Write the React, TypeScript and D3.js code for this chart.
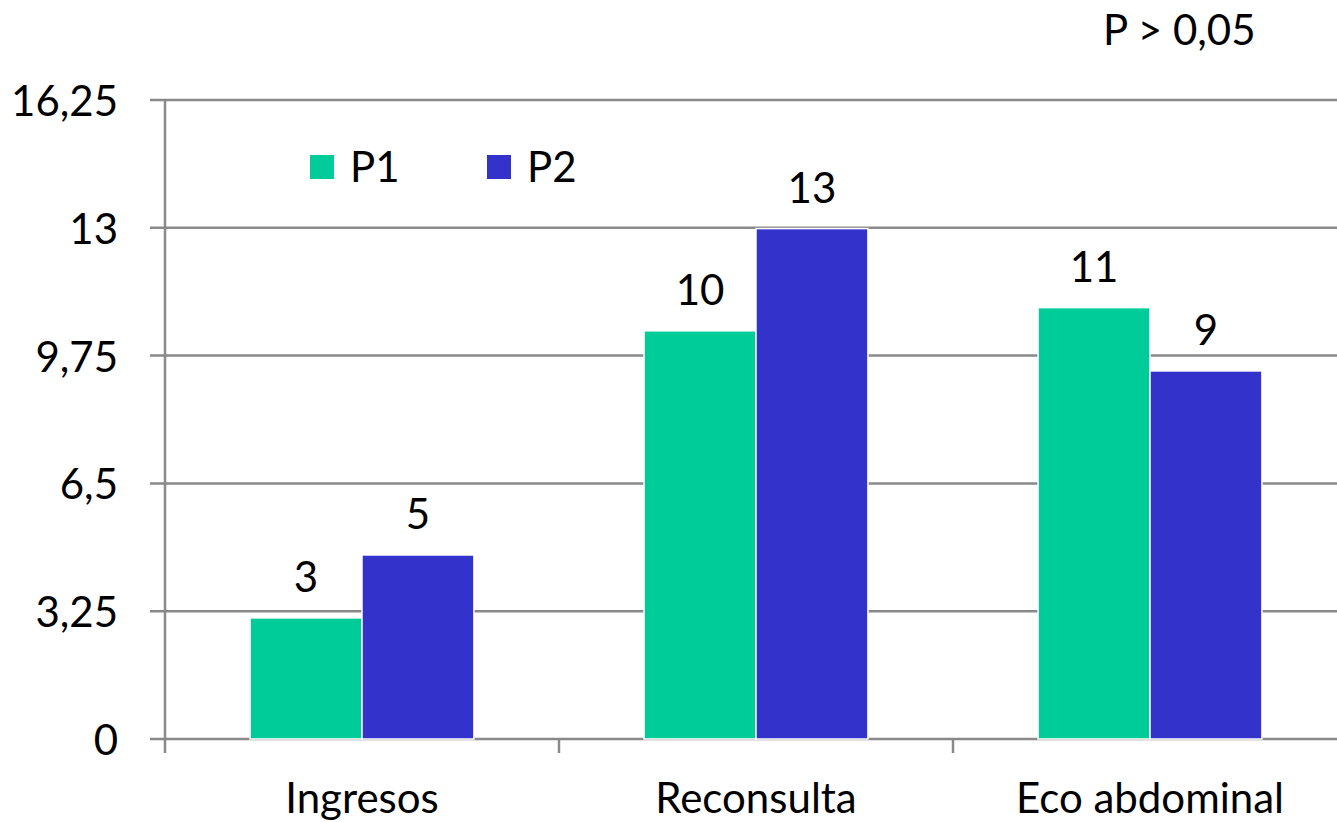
import React from "react";
import * as d3 from "d3";

// values (bar heights) and the printed labels
const categories = ["Ingresos", "Reconsulta", "Eco abdominal"];
const seriesNames = ["P1", "P2"];
const p1Values = [3.08, 10.38, 10.97];
const p2Values = [4.68, 12.98, 9.36];
const p1Labels = ["3", "10", "11"];
const p2Labels = ["5", "13", "9"];
const yTicks = [0, 3.25, 6.5, 9.75, 13, 16.25];
const yTickLabels = ["0", "3,25", "6,5", "9,75", "13", "16,25"];
const note = "P > 0,05";

const W = 1337;
const H = 822;
const colors = ["#00CC99", "#3333CC"];
const gridColor = "#898989";
const font = "Lato, 'Open Sans', sans-serif";
const fs = 42;

const App: React.FC = () => {
  const x0 = 165;
  const bandW = 394;
  const x = d3
    .scaleBand<string>()
    .domain(categories)
    .range([x0, x0 + bandW * categories.length])
    .padding(0);

  const y = d3.scaleLinear().domain([0, 16.25]).range([739, 100]);

  // Excel-style gap width ~152%
  const barW = x.bandwidth() / (2 + 1.52);
  const xs = d3
    .scaleBand<string>()
    .domain(seriesNames)
    .range([0, barW * 2])
    .padding(0);

  const series = [
    { name: "P1", values: p1Values, labels: p1Labels, color: colors[0] },
    { name: "P2", values: p2Values, labels: p2Labels, color: colors[1] },
  ];

  const groupOffset = (x.bandwidth() - barW * 2) / 2;

  return (
    <svg
      width={W}
      height={H}
      style={{ position: "absolute", left: 0, top: 0, background: "#fff" }}
      fontFamily={font}
    >
      {/* gridlines + y labels */}
      {yTicks.map((t, i) => (
        <g key={i}>
          <line x1={150} x2={W} y1={y(t)} y2={y(t)} stroke={gridColor} strokeWidth={2.5} />
          <text x={118} y={y(t) + 16} textAnchor="end" fontSize={fs} fill="#000">
            {yTickLabels[i]}
          </text>
        </g>
      ))}

      {/* y axis */}
      <line x1={x0} x2={x0} y1={y(16.25)} y2={753} stroke={gridColor} strokeWidth={2.5} />

      {/* category ticks */}
      {categories.map((c) => (
        <line
          key={c}
          x1={(x(c) as number) + x.bandwidth()}
          x2={(x(c) as number) + x.bandwidth()}
          y1={y(0)}
          y2={753}
          stroke={gridColor}
          strokeWidth={2.5}
        />
      ))}

      {/* bars */}
      {categories.map((c, ci) => (
        <g key={c} transform={`translate(${(x(c) as number) + groupOffset},0)`}>
          {series.map((s) => (
            <g key={s.name}>
              <rect
                x={xs(s.name)}
                y={y(s.values[ci])}
                width={xs.bandwidth()}
                height={y(0) - y(s.values[ci])}
                fill={s.color}
                stroke="#fff"
                strokeWidth={1.5}
              />
              <text
                x={(xs(s.name) as number) + xs.bandwidth() / 2}
                y={y(s.values[ci]) - 26}
                textAnchor="middle"
                fontSize={fs}
                fill="#000"
              >
                {s.labels[ci]}
              </text>
            </g>
          ))}
        </g>
      ))}

      {/* category labels */}
      {categories.map((c) => (
        <text
          key={c}
          x={(x(c) as number) + x.bandwidth() / 2}
          y={813}
          textAnchor="middle"
          fontSize={fs}
          fill="#000"
        >
          {c}
        </text>
      ))}

      {/* legend */}
      {series.map((s, i) => (
        <g key={s.name} transform={`translate(${310 + i * 177},155)`}>
          <rect width={24} height={24} fill={s.color} />
          <text x={40} y={27} fontSize={fs} fill="#000">
            {s.name}
          </text>
        </g>
      ))}

      {/* note */}
      <text x={1103} y={45} fontSize={fs} fill="#000">
        {note}
      </text>
    </svg>
  );
};

export default App;
